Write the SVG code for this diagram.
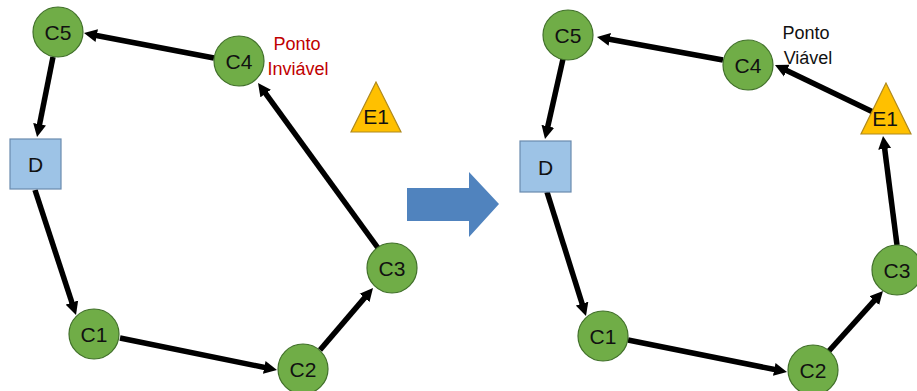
<svg xmlns="http://www.w3.org/2000/svg" width="917" height="391" viewBox="0 0 917 391">
  <style>
    .edge { stroke: #000; stroke-width: 5.5; fill: none; marker-end: url(#arrow); }
    .city { fill: #70AD47; stroke: #41702A; stroke-width: 1.2; }
    .depot { fill: #9DC3E6; stroke: #6A8BAE; stroke-width: 1.2; }
    .station { fill: #FFC000; stroke: #B08A1E; stroke-width: 1.2; }
    .lbl { font-family: "Liberation Sans", Arial, sans-serif; font-size: 21px; fill: #111; text-anchor: middle; }
    .note { font-family: "Liberation Sans", Arial, sans-serif; font-size: 18px; text-anchor: middle; }
  </style>
  <defs>
    <marker id="arrow" markerUnits="userSpaceOnUse" markerWidth="14" markerHeight="14" refX="3" refY="7" orient="auto">
      <path d="M0,0.5 L13,7 L0,13.5 z" fill="#000"/>
    </marker>
  </defs>
  <rect width="917" height="391" fill="#fff"/>

  <!-- left route: station E1 not reachable -->
  <g id="connectors-left">
    <line class="edge" x1="214" y1="58" x2="93.8" y2="35"/>
    <line class="edge" x1="53" y1="57" x2="39" y2="127.2"/>
    <line class="edge" x1="35" y1="190" x2="72.9" y2="305.5"/>
    <line class="edge" x1="120" y1="338" x2="267.2" y2="368"/>
    <line class="edge" x1="320" y1="350" x2="366.5" y2="295.6"/>
    <line class="edge" x1="378" y1="248" x2="263.9" y2="91.1"/>
  </g>
  <g id="L-C5"><circle class="city" cx="58" cy="32" r="25"/><text class="lbl" x="58" y="40">C5</text></g>
  <g id="L-C4"><circle class="city" cx="239" cy="61" r="25"/><text class="lbl" x="239" y="69">C4</text></g>
  <g id="L-D"><rect class="depot" x="10" y="139" width="51" height="50"/><text class="lbl" x="35.5" y="172">D</text></g>
  <g id="L-C1"><circle class="city" cx="94" cy="334" r="25"/><text class="lbl" x="94" y="342">C1</text></g>
  <g id="L-C2"><circle class="city" cx="303" cy="369" r="25"/><text class="lbl" x="303" y="377">C2</text></g>
  <g id="L-C3"><circle class="city" cx="392" cy="268" r="25"/><text class="lbl" x="392" y="276">C3</text></g>
  <g id="L-E1"><polygon class="station" points="376,82 351,132 401,132"/><text class="lbl" x="376" y="124">E1</text></g>
  <g id="L-note"><text class="note" fill="#C00000"><tspan x="297" y="50">Ponto</tspan><tspan x="298" y="75">Inviável</tspan></text></g>

  <!-- transition arrow -->
  <g id="transition"><polygon points="407,188 469,188 469,172 499,204 469,237 469,221 407,221" fill="#5083BE"/></g>

  <!-- right route: detour through E1 -->
  <g id="connectors-right">
    <line class="edge" x1="723" y1="60" x2="606.8" y2="38.8"/>
    <line class="edge" x1="873" y1="112" x2="784" y2="69.3"/>
    <line class="edge" x1="897" y1="245" x2="884.3" y2="145.9"/>
    <line class="edge" x1="563" y1="59" x2="547.2" y2="129.2"/>
    <line class="edge" x1="547" y1="192" x2="583" y2="306.5"/>
    <line class="edge" x1="628" y1="340" x2="777.2" y2="370"/>
    <line class="edge" x1="828" y1="352" x2="876.3" y2="298.4"/>
  </g>
  <g id="R-C5"><circle class="city" cx="568" cy="35" r="25"/><text class="lbl" x="568" y="43">C5</text></g>
  <g id="R-C4"><circle class="city" cx="748" cy="65" r="25"/><text class="lbl" x="748" y="73">C4</text></g>
  <g id="R-D"><rect class="depot" x="520" y="141" width="51" height="51"/><text class="lbl" x="545.5" y="175">D</text></g>
  <g id="R-C1"><circle class="city" cx="603" cy="336" r="25"/><text class="lbl" x="603" y="344">C1</text></g>
  <g id="R-C2"><circle class="city" cx="813" cy="370" r="25"/><text class="lbl" x="813" y="378">C2</text></g>
  <g id="R-C3"><circle class="city" cx="897" cy="270" r="25"/><text class="lbl" x="897" y="278">C3</text></g>
  <g id="R-E1"><polygon class="station" points="886,83 861,134 911,134"/><text class="lbl" x="885" y="126">E1</text></g>
  <g id="R-note"><text class="note" fill="#111"><tspan x="806" y="39">Ponto</tspan><tspan x="808" y="64">Viável</tspan></text></g>
</svg>
